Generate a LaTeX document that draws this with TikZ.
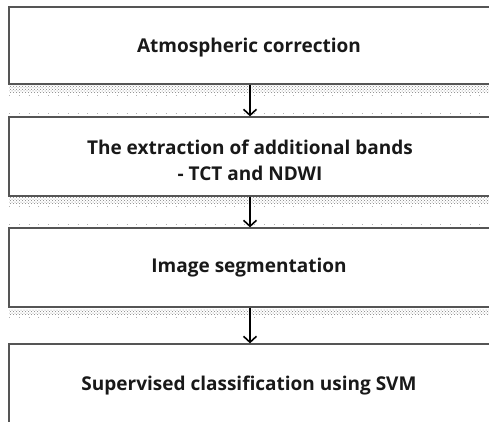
\documentclass[tikz,border=0pt]{standalone}
\usepackage{fontspec}
\setmainfont{Open Sans}
\usetikzlibrary{arrows.meta,patterns}
\definecolor{boxline}{HTML}{555555}
\tikzset{
  box/.style={draw=boxline,line width=1.3pt,fill=white,rectangle,minimum width=481pt,inner sep=0pt},
  lbl/.style={font=\bfseries\fontsize{19}{26}\selectfont,align=center,inner sep=0pt,text=black!90},
  flow/.style={line width=1.6pt,-{Straight Barb[length=6pt,width=13pt,line width=1.6pt]}},
  band/.style={pattern=crosshatch dots,pattern color=gray,draw=none},
  dotrow/.style={draw=gray!60,line width=0.8pt,dash pattern=on 0.8pt off 9pt}
}
\begin{document}
\begin{tikzpicture}[x=1pt,y=-1pt]
\useasboundingbox (0,0) rectangle (489,421);
\clip (0,0) rectangle (489,421);
\fill[white] (0,0) rectangle (489,421);
% bands and dot rows
\foreach \t/\b in {85/92,197/203,309/314}{
  \fill[band] (9,\t) rectangle (489,\b);
}
\foreach \y in {95,113,206,224,317}{
  \draw[dotrow] (9,\y) -- (489,\y);
}
% boxes
\node[box,minimum height=77pt] (b1) at (249.5,45.5) {};
\node[box,minimum height=79pt] (b2) at (249.5,156.5) {};
\node[box,minimum height=79pt] (b3) at (249.5,267.5) {};
\node[box,minimum height=100pt] (b4) at (249.5,394) {};
% texts
\node[lbl] (t1) at (249,48) {Atmospheric correction};
\node[lbl] (t2) at (250,160) {The extraction of additional bands\\- TCT and NDWI};
\node[lbl] (t3) at (249,268) {Image segmentation};
\node[lbl] (t4) at (249,386) {Supervised classification using SVM};
% arrows
\draw[flow] (b1.south -| 250,0) -- (b2.north -| 250,0);
\draw[flow] (b2.south -| 250,0) -- (b3.north -| 250,0);
\draw[flow] (b3.south -| 250,0) -- (b4.north -| 250,0);
\end{tikzpicture}
\end{document}
